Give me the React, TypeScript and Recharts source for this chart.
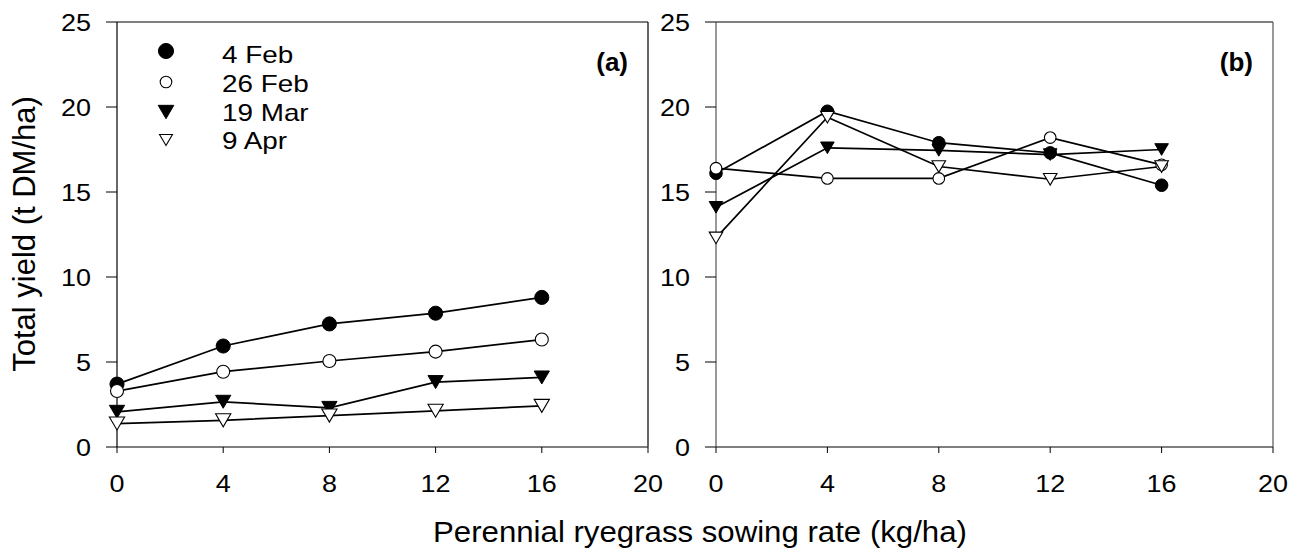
import React from "react"
import { LineChart, Line, XAxis, YAxis, ReferenceLine } from "recharts"

const rates = [0, 4, 8, 12, 16]
const xTicks = [0, 4, 8, 12, 16, 20]
const yTicks = [0, 5, 10, 15, 20, 25]
const seriesNames = ["4 Feb", "26 Feb", "19 Mar", "9 Apr"]
const markerKinds = ["filledCircle", "openCircle", "filledTri", "openTri"]

// panel (a) total yield, t DM/ha
const aFeb4 = [3.7, 5.94, 7.24, 7.87, 8.8]
const aFeb26 = [3.29, 4.43, 5.06, 5.61, 6.32]
const aMar19 = [2.07, 2.66, 2.3, 3.82, 4.09]
const aApr9 = [1.38, 1.57, 1.85, 2.13, 2.42]

// panel (b)
const bFeb4 = [16.1, 19.75, 17.9, 17.3, 15.4]
const bFeb26 = [16.4, 15.8, 15.8, 18.2, 16.6]
const bMar19 = [14.1, 17.6, 17.45, 17.2, 17.5]
const bApr9 = [12.3, 19.4, 16.5, 15.75, 16.5]

const FONT = "'Liberation Sans', Arial, Helvetica, sans-serif"
const GREY = "#555"

const toPts = (vals: number[]) => rates.map((x, i) => ({ x, y: vals[i] }))

function Marker({ cx, cy, kind, s = 1 }: { cx: number; cy: number; kind: string; s?: number }) {
  if (cx == null || cy == null) return null
  if (kind === "filledCircle") return <circle cx={cx} cy={cy} r={6.3 * s} fill="#000" stroke="#000" strokeWidth={1} />
  if (kind === "openCircle") return <circle cx={cx} cy={cy} r={5.8 * s} fill="#fff" stroke="#000" strokeWidth={1.1} />
  const w = 6.8 * s
  const h = 5.8 * s
  const pts = `${cx - w},${cy - h} ${cx + w},${cy - h} ${cx},${cy + h}`
  if (kind === "filledTri") return <polygon points={pts} fill="#000" stroke="#000" strokeWidth={1} />
  return <polygon points={pts} fill="#fff" stroke="#000" strokeWidth={1.1} />
}

const XTick = (p: any) => (
  <g transform={`translate(${p.x},${p.y})`}>
    <text transform="scale(1.1,1)" textAnchor="middle" dy="0.71em" fontSize={24.5} fontFamily={FONT} fill="#000">
      {p.payload.value}
    </text>
  </g>
)

const YTick = (p: any) => (
  <g transform={`translate(${p.x},${p.y})`}>
    <text transform="scale(1.1,1)" textAnchor="end" dy="0.355em" fontSize={24.5} fontFamily={FONT} fill="#000">
      {p.payload.value}
    </text>
  </g>
)

function Panel({ series, yAxisWidth, width, right, axisColor, borderColor, markerScale }: {
  series: number[][]; yAxisWidth: number; width: number; right: number; axisColor: string; borderColor: string; markerScale: number
}) {
  return (
    <LineChart width={width} height={549} margin={{ top: 22, right, bottom: 62, left: 0 }}>
      <XAxis
        type="number" dataKey="x" domain={[0, 20]} ticks={xTicks}
        tickSize={6} tickMargin={22} height={40}
        axisLine={{ stroke: GREY, strokeWidth: 1.5 }} tickLine={{ stroke: "#000" }} tick={<XTick />}
      />
      <YAxis
        type="number" domain={[0, 25]} ticks={yTicks}
        width={yAxisWidth} tickSize={11} tickMargin={15}
        axisLine={{ stroke: axisColor, strokeWidth: 1.2 }} tickLine={{ stroke: "#000" }} tick={<YTick />}
      />
      <ReferenceLine y={25} stroke={GREY} strokeWidth={1.5} />
      <ReferenceLine x={20} stroke={borderColor} strokeWidth={1.2} />
      {series.map((vals, i) => (
        <Line
          key={seriesNames[i]}
          data={toPts(vals)}
          dataKey="y"
          stroke="#000"
          strokeWidth={1.7}
          isAnimationActive={false}
          dot={(d: any) => <Marker key={`${i}-${d.index}`} cx={d.cx} cy={d.cy} kind={markerKinds[i]} s={markerScale} />}
          activeDot={false}
        />
      ))}
    </LineChart>
  )
}

const legendRows = [
  { my: 51, ty: 54, s: 1.2 },
  { my: 82, ty: 83.5, s: 1.0 },
  { my: 112, ty: 112, s: 1.15 },
  { my: 140, ty: 140, s: 0.95 },
]

export default function App() {
  return (
    <div style={{ position: "absolute", left: 0, top: 0, width: 1306, height: 549, background: "#fff" }}>
      <div style={{ position: "absolute", left: 0, top: 0 }}>
        <Panel series={[aFeb4, aFeb26, aMar19, aApr9]} yAxisWidth={117} width={680} right={32} axisColor="#000" borderColor="#000" markerScale={1.12} />
      </div>
      <div style={{ position: "absolute", left: 660, top: 0 }}>
        <Panel series={[bFeb4, bFeb26, bMar19, bApr9]} yAxisWidth={56} width={646} right={33} axisColor={GREY} borderColor={GREY} markerScale={1} />
      </div>
      <svg width={1306} height={549} style={{ position: "absolute", left: 0, top: 0, pointerEvents: "none" }} fontFamily={FONT}>
        <text transform="translate(35,234) rotate(-90)" textAnchor="middle" fontSize={31} fill="#000">
          Total yield (t DM/ha)
        </text>
        <text transform="translate(700,542) scale(1.04,1)" textAnchor="middle" fontSize={30} fill="#000">
          Perennial ryegrass sowing rate (kg/ha)
        </text>
        <text x={628} y={62} dy="0.355em" textAnchor="end" fontSize={26} fontWeight="bold" fill="#000">(a)</text>
        <text x={1253} y={62} dy="0.355em" textAnchor="end" fontSize={26} fontWeight="bold" fill="#000">(b)</text>
        {seriesNames.map((name, i) => (
          <g key={name}>
            <Marker cx={166} cy={legendRows[i].my} kind={markerKinds[i]} s={legendRows[i].s} />
            <text transform={`translate(222,${legendRows[i].ty}) scale(1.16,1)`} dy="0.355em" fontSize={24} fill="#000">
              {name}
            </text>
          </g>
        ))}
      </svg>
    </div>
  )
}
